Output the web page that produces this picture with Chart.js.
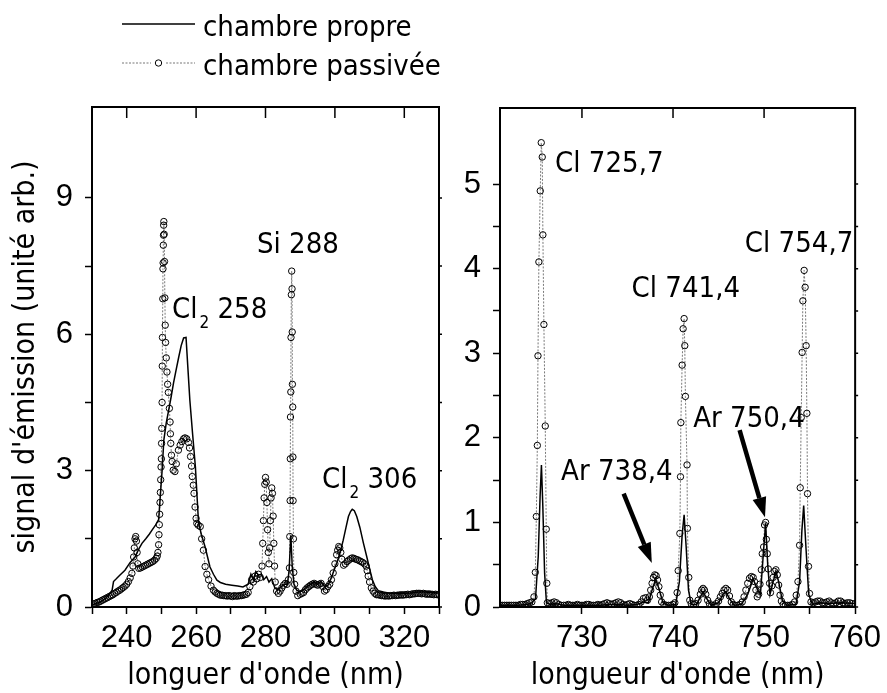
<!DOCTYPE html>
<html><head><meta charset="utf-8">
<script src="https://cdn.jsdelivr.net/npm/chart.js@4.4.1/dist/chart.umd.min.js"></script>
<style>
html,body{margin:0;padding:0;background:#fff;}
#wrap{position:relative;width:887px;height:693px;overflow:hidden;background:#fff;}
canvas{position:absolute;top:0;}
#c1{left:0;width:445px;height:693px;}
#c2{left:445px;width:442px;height:693px;}
</style></head><body>
<div id="wrap"><canvas id="c1" width="445" height="693"></canvas><canvas id="c2" width="442" height="693"></canvas></div>
<script>
// ---------- DATA ----------
const seriesNames = ["chambre propre", "chambre passivée"];
const leftXTicksLabeled = [240, 260, 280, 300, 320];
const rightXTicksLabeled = [730, 740, 750, 760];

// left panel, clean chamber [wavelength nm, signal]
const leftClean = [[230,0.05],[231,0.07],[232,0.1],[233,0.14],[234,0.2],[235,0.28],[235.8,0.37],[236.2,0.56],[237,0.62],[238,0.7],[239.5,0.81],[241,0.98],[242.4,1.1],[243.5,1.28],[244.4,1.4],[245.5,1.5],[246.5,1.6],[247.3,1.69],[248.3,1.8],[249.2,1.92],[249.6,2.35],[250.2,3.0],[250.7,3.67],[251.4,4.05],[252.1,4.33],[252.8,4.62],[253.5,4.93],[254.2,5.2],[255,5.5],[255.7,5.75],[256.4,5.92],[257.1,5.93],[257.6,5.3],[258.2,4.55],[259,3.8],[259.8,3.08],[260.7,1.85],[261.5,1.6],[262.6,1.32],[263.3,1.1],[264,0.88],[265,0.72],[266,0.59],[267,0.54],[268.5,0.5],[270.3,0.48],[272,0.46],[273.5,0.44],[275,0.5],[275.8,0.72],[276.5,0.6],[277.2,0.78],[278,0.7],[278.8,0.72],[279.5,0.6],[280.3,0.67],[281,0.55],[281.8,0.62],[282.7,0.42],[283.5,0.38],[284.5,0.45],[285.5,0.5],[286.3,0.5],[286.8,0.8],[287.3,1.58],[287.7,0.9],[288.2,0.5],[289,0.37],[290,0.33],[291,0.38],[292,0.45],[293,0.5],[294,0.55],[295,0.5],[296,0.56],[297,0.45],[298,0.48],[299,0.65],[300.5,0.96],[301.5,1.2],[302.4,1.47],[303.2,1.75],[303.9,1.99],[304.5,2.1],[305,2.15],[305.6,2.12],[306.3,1.99],[307.2,1.75],[308.2,1.41],[309.2,1.1],[310.1,0.81],[310.8,0.6],[311.6,0.45],[312.5,0.36],[314,0.33],[316,0.3],[318,0.3],[320,0.3],[322,0.31],[324,0.33],[326,0.33],[328,0.32],[330,0.3]];

// left panel, passivated chamber
const leftPassive = [[230,0.05],[230.5,0.07],[231,0.08],[231.5,0.1],[232,0.11],[232.5,0.13],[233,0.15],[233.5,0.17],[234,0.19],[234.5,0.21],[235,0.23],[235.5,0.25],[236,0.27],[236.5,0.3],[237,0.32],[237.5,0.35],[238,0.37],[238.5,0.4],[239,0.43],[239.5,0.46],[240,0.5],[240.5,0.56],[241,0.64],[241.5,0.74],[241.8,0.9],[242,1.1],[242.2,1.3],[242.4,1.5],[242.6,1.55],[242.8,1.45],[243,1.2],[243.2,0.95],[243.5,0.85],[244,0.86],[244.5,0.88],[245,0.9],[245.5,0.92],[246,0.94],[246.5,0.96],[247,0.98],[247.5,1.0],[248,1.03],[248.5,1.07],[248.8,1.12],[249,1.2],[249.2,1.37],[249.3,1.59],[249.4,1.81],[249.5,2.04],[249.6,2.3],[249.7,2.52],[249.8,2.8],[249.9,3.08],[250,3.26],[250.05,3.6],[250.1,3.93],[250.2,4.5],[250.25,5.3],[250.3,5.93],[250.4,6.78],[250.45,7.44],[250.5,7.57],[250.55,7.96],[250.6,8.18],[250.65,8.4],[250.7,8.48],[250.8,8.2],[250.9,7.6],[251,6.8],[251.1,6.2],[251.2,5.82],[251.4,5.48],[251.6,5.17],[251.8,4.9],[252,4.72],[252.3,4.37],[252.5,4.07],[252.6,3.81],[252.7,3.6],[252.9,3.34],[253.1,3.2],[253.4,3.01],[253.9,2.98],[254.3,3.15],[254.9,3.45],[255.4,3.56],[255.9,3.64],[256.4,3.7],[256.8,3.72],[257.3,3.7],[257.8,3.62],[258.1,3.5],[258.4,3.31],[258.7,3.1],[258.9,2.87],[259.2,2.68],[259.4,2.5],[259.7,2.2],[260,1.95],[260.2,1.84],[260.6,1.8],[261.2,1.77],[261.6,1.5],[262.1,1.25],[262.6,0.89],[263.1,0.72],[263.6,0.6],[264.3,0.46],[265,0.37],[265.5,0.33],[266,0.3],[266.5,0.28],[267,0.26],[267.5,0.26],[268,0.25],[268.5,0.25],[269,0.24],[269.5,0.25],[270,0.24],[270.5,0.23],[271,0.25],[271.5,0.24],[272,0.24],[272.5,0.25],[273,0.25],[273.5,0.26],[274,0.27],[274.5,0.28],[275,0.32],[275.5,0.45],[276,0.6],[276.5,0.55],[277,0.68],[277.5,0.62],[278,0.72],[278.5,0.65],[279,0.9],[279.2,1.4],[279.4,1.9],[279.6,2.4],[279.8,2.7],[280,2.85],[280.2,2.75],[280.4,2.3],[280.6,1.7],[280.8,1.2],[281,0.95],[281.2,1.3],[281.4,1.9],[281.6,2.4],[281.8,2.62],[282,2.5],[282.2,2.0],[282.4,1.4],[282.6,0.9],[282.8,0.55],[283.2,0.35],[283.7,0.3],[284.2,0.35],[284.7,0.42],[285.2,0.48],[285.7,0.52],[286.2,0.5],[286.6,0.6],[286.9,0.86],[287,1.55],[287.1,2.34],[287.15,3.26],[287.2,4.18],[287.3,4.73],[287.35,5.93],[287.45,6.87],[287.55,7.39],[287.65,7.0],[287.7,6.05],[287.75,4.9],[287.85,4.4],[287.9,3.3],[287.95,2.34],[288.05,1.5],[288.15,0.76],[288.4,0.5],[288.8,0.35],[289.3,0.25],[290,0.28],[290.5,0.3],[291,0.32],[291.5,0.38],[292,0.42],[292.5,0.45],[293,0.48],[293.5,0.5],[294,0.52],[294.5,0.5],[295,0.48],[295.5,0.5],[296,0.52],[296.5,0.45],[297,0.35],[297.5,0.38],[298,0.45],[298.5,0.5],[299,0.6],[299.5,0.75],[300,0.95],[300.5,1.15],[300.8,1.25],[301.1,1.33],[301.4,1.3],[301.7,1.2],[302,1.05],[302.5,0.92],[303,0.95],[303.5,1.0],[304,1.03],[304.5,1.06],[305,1.08],[305.5,1.07],[306,1.05],[306.5,1.04],[307,1.02],[307.5,1.0],[308,0.98],[308.5,0.95],[309,0.9],[309.3,0.8],[309.6,0.68],[310,0.55],[310.5,0.42],[311,0.35],[311.5,0.3],[312,0.27],[312.5,0.27],[313,0.26],[313.5,0.25],[314,0.25],[314.5,0.24],[315,0.25],[315.5,0.24],[316,0.25],[316.5,0.25],[317,0.26],[317.5,0.25],[318,0.26],[318.5,0.26],[319,0.27],[319.5,0.26],[320,0.27],[320.5,0.27],[321,0.28],[321.5,0.27],[322,0.28],[322.5,0.29],[323,0.29],[323.5,0.3],[324,0.3],[324.5,0.3],[325,0.29],[325.5,0.3],[326,0.29],[326.5,0.28],[327,0.29],[327.5,0.28],[328,0.28],[328.5,0.27],[329,0.28],[329.5,0.27],[330,0.27]];

// right panel, clean chamber
const rightClean = [[721,0.02],[722,0.02],[723,0.02],[724,0.03],[724.5,0.05],[724.9,0.1],[725.2,0.6],[725.4,1.3],[725.55,1.68],[725.7,1.2],[725.9,0.4],[726.1,0.05],[726.5,0.03],[727,0.04],[728,0.02],[730,0.02],[732,0.02],[733,0.03],[734,0.03],[735,0.02],[736,0.03],[736.8,0.06],[737.3,0.05],[737.7,0.2],[738.1,0.33],[738.5,0.2],[738.9,0.05],[739.5,0.02],[740.3,0.03],[740.7,0.3],[741,0.85],[741.22,1.09],[741.45,0.7],[741.7,0.2],[742,0.03],[742.6,0.03],[743,0.12],[743.3,0.18],[743.7,0.1],[744.2,0.02],[745,0.05],[745.5,0.15],[745.8,0.18],[746.2,0.1],[746.7,0.02],[747.5,0.03],[748.2,0.15],[748.8,0.33],[749.3,0.2],[749.6,0.15],[749.9,0.6],[750.17,0.99],[750.4,0.5],[750.65,0.15],[751,0.3],[751.3,0.42],[751.6,0.3],[752,0.08],[752.5,0.02],[753.5,0.03],[753.9,0.3],[754.15,0.9],[754.35,1.2],[754.6,0.7],[754.9,0.15],[755.3,0.03],[756,0.05],[757,0.04],[758.5,0.05],[760,0.04]];

// right panel, passivated chamber
const rightPassive = [[721,0.02],[721.25,0.02],[721.5,0.02],[721.75,0.02],[722,0.02],[722.25,0.02],[722.5,0.02],[722.75,0.02],[723,0.02],[723.25,0.03],[723.5,0.03],[723.75,0.03],[724,0.04],[724.25,0.05],[724.5,0.06],[724.73,0.12],[724.88,0.41],[724.99,1.07],[725.1,1.91],[725.17,2.97],[725.27,4.08],[725.42,4.92],[725.53,5.49],[725.64,5.32],[725.71,4.4],[725.82,3.34],[725.97,2.14],[726.08,0.92],[726.14,0.28],[726.2,0.05],[726.45,0.04],[726.7,0.05],[726.95,0.06],[727.2,0.05],[727.45,0.03],[727.7,0.02],[728,0.02],[728.25,0.02],[728.5,0.03],[728.75,0.02],[729,0.02],[729.25,0.02],[729.5,0.03],[729.75,0.02],[730,0.02],[730.25,0.02],[730.5,0.03],[730.75,0.03],[731,0.02],[731.25,0.02],[731.5,0.02],[731.75,0.03],[732,0.02],[732.25,0.03],[732.5,0.04],[732.75,0.05],[733,0.04],[733.25,0.03],[733.5,0.04],[733.75,0.05],[734,0.06],[734.25,0.05],[734.5,0.03],[734.75,0.02],[735,0.03],[735.25,0.04],[735.5,0.03],[735.75,0.02],[736,0.02],[736.25,0.03],[736.5,0.06],[736.75,0.1],[737,0.11],[737.2,0.08],[737.4,0.12],[737.55,0.2],[737.7,0.28],[737.85,0.35],[738,0.38],[738.15,0.37],[738.3,0.32],[738.45,0.24],[738.6,0.14],[738.75,0.06],[739,0.03],[739.25,0.02],[739.5,0.02],[739.75,0.02],[740,0.03],[740.2,0.05],[740.45,0.17],[740.57,0.43],[740.75,0.87],[740.82,1.54],[740.86,2.18],[741,2.86],[741.11,3.29],[741.22,3.41],[741.29,3.09],[741.36,2.49],[741.54,1.68],[741.58,0.93],[741.73,0.35],[741.84,0.08],[742,0.04],[742.25,0.03],[742.5,0.04],[742.75,0.08],[743,0.15],[743.15,0.2],[743.3,0.22],[743.45,0.2],[743.6,0.15],[743.8,0.08],[744,0.04],[744.25,0.02],[744.5,0.02],[744.75,0.04],[745,0.07],[745.2,0.12],[745.4,0.16],[745.6,0.2],[745.8,0.22],[746,0.2],[746.2,0.13],[746.4,0.06],[746.6,0.03],[746.85,0.02],[747.1,0.02],[747.35,0.03],[747.6,0.06],[747.8,0.12],[748,0.2],[748.2,0.28],[748.4,0.34],[748.6,0.36],[748.8,0.35],[748.95,0.3],[749.1,0.2],[749.25,0.12],[749.4,0.15],[749.55,0.27],[749.7,0.44],[749.8,0.63],[749.95,0.71],[750.05,0.97],[750.17,1.0],[750.25,0.8],[750.35,0.63],[750.46,0.45],[750.6,0.28],[750.7,0.17],[750.85,0.25],[751,0.35],[751.15,0.42],[751.3,0.44],[751.45,0.38],[751.6,0.26],[751.75,0.14],[751.9,0.07],[752.1,0.03],[752.35,0.02],[752.6,0.02],[752.85,0.02],[753.1,0.03],[753.35,0.06],[753.53,0.14],[753.72,0.3],[753.9,0.73],[753.97,1.41],[754.08,2.24],[754.18,3.01],[754.26,3.62],[754.4,3.98],[754.51,3.78],[754.62,3.09],[754.7,2.29],[754.77,1.34],[754.88,0.48],[754.99,0.16],[755.15,0.06],[755.4,0.05],[755.65,0.06],[755.9,0.07],[756.15,0.07],[756.4,0.05],[756.65,0.05],[756.9,0.06],[757.15,0.07],[757.4,0.05],[757.65,0.04],[757.9,0.05],[758.15,0.07],[758.4,0.07],[758.65,0.05],[758.9,0.04],[759.15,0.05],[759.4,0.05],[759.65,0.04],[760,0.04]];

// annotations: [label main, subscript, rest, x, y] (text anchor at baseline-left, data units)
const leftLabels = [["Cl","2"," 258",253.05,6.36],["Si 288","","",277.55,7.79],["Cl","2"," 306",296.28,2.62]];
const rightLabels = [["Cl 725,7","","",727.05,5.14],["Cl 741,4","","",735.45,3.66],["Cl 754,7","","",747.89,4.20],["Ar 738,4","","",727.71,1.50],["Ar 750,4","","",742.22,2.13]];
// arrows: [fromX, fromY, toX, toY] in data units
const rightArrows = [[734.58,1.34,737.67,0.52],[747.31,2.09,750.1,1.06]];

// ---------- FONTS ----------
function hasFont(name){
  const c=document.createElement('canvas').getContext('2d');
  const s='abcdefghijklmnopqrstuvwxyz0123456789 ABCDEFG';
  c.font='40px monospace'; const w0=c.measureText(s).width;
  c.font='40px "'+name+'", monospace'; const w1=c.measureText(s).width;
  return Math.abs(w0-w1)>0.5;
}
const COND = hasFont('DejaVu Sans Condensed');
const TFAM = COND ? '"DejaVu Sans Condensed", "DejaVu Sans", sans-serif' : '"DejaVu Sans", sans-serif';
const K = COND ? 1 : 0.9;
const TICKFAM = '"Liberation Sans", Arial, sans-serif';
const TITLE_SIZE = Math.round(30*K);
const ANN_SIZE = Math.round(29*K);
const SUB_SIZE = Math.round(17*K);

// ---------- PLUGINS ----------
function framePlugin(topLen, rightLen, labelTest){
  return {id:'frame', afterDraw(chart){
    const {ctx, chartArea:a, scales:{x,y}} = chart;
    ctx.save();
    ctx.strokeStyle='#000'; ctx.lineWidth=2;
    ctx.strokeRect(a.left, a.top, a.right-a.left, a.bottom-a.top);
    ctx.lineWidth=1.5; ctx.beginPath();
    x.ticks.forEach(t=>{ if(!labelTest(t.value)) return; const px=x.getPixelForValue(t.value); ctx.moveTo(px,a.top); ctx.lineTo(px,a.top+topLen); });
    y.ticks.forEach(t=>{ if(t.value>y.max-1e-9) return; const py=y.getPixelForValue(t.value); ctx.moveTo(a.right,py); ctx.lineTo(a.right+rightLen,py); });
    ctx.stroke(); ctx.restore();
  }};
}
function labelPlugin(labels, arrows){
  return {id:'labels', afterDraw(chart){
    const {ctx, scales:{x,y}} = chart;
    ctx.save(); ctx.fillStyle='#000'; ctx.textBaseline='alphabetic'; ctx.textAlign='left';
    labels.forEach(([a,sub,rest,lx,ly])=>{
      let px=x.getPixelForValue(lx), py=y.getPixelForValue(ly);
      ctx.font=ANN_SIZE+'px '+TFAM; ctx.fillText(a,px,py); px+=ctx.measureText(a).width;
      if(sub){ ctx.font=SUB_SIZE+'px '+TFAM; ctx.fillText(sub,px+2,py+10); px+=ctx.measureText(sub).width+2; }
      if(rest){ ctx.font=ANN_SIZE+'px '+TFAM; ctx.fillText(rest,px,py); }
    });
    (arrows||[]).forEach(([x0,y0,x1,y1])=>{
      const ax=x.getPixelForValue(x0), ay=y.getPixelForValue(y0), bx=x.getPixelForValue(x1), by=y.getPixelForValue(y1);
      const ang=Math.atan2(by-ay,bx-ax), hl=20, hw=7;
      const cx=bx-hl*Math.cos(ang), cy=by-hl*Math.sin(ang);
      ctx.strokeStyle='#000'; ctx.lineWidth=4.5; ctx.lineCap='butt';
      ctx.beginPath(); ctx.moveTo(ax,ay); ctx.lineTo(cx,cy); ctx.stroke();
      ctx.beginPath(); ctx.moveTo(bx,by);
      ctx.lineTo(cx+hw*Math.sin(ang), cy-hw*Math.cos(ang));
      ctx.lineTo(cx-hw*Math.sin(ang), cy+hw*Math.cos(ang));
      ctx.closePath(); ctx.fill();
    });
    ctx.restore();
  }};
}
const legendPlugin = {id:'legendDraw', afterDraw(chart){
  const ctx=chart.ctx; ctx.save();
  ctx.strokeStyle='#000'; ctx.lineWidth=1.5; ctx.beginPath(); ctx.moveTo(122,24); ctx.lineTo(195,24); ctx.stroke();
  ctx.strokeStyle='#777'; ctx.lineWidth=1; ctx.setLineDash([2,1.5]);
  ctx.beginPath(); ctx.moveTo(122,63); ctx.lineTo(151,63); ctx.moveTo(166,63); ctx.lineTo(195,63); ctx.stroke();
  ctx.setLineDash([]); ctx.strokeStyle='#000'; ctx.fillStyle='#fff';
  ctx.beginPath(); ctx.arc(158.5,63,3.2,0,Math.PI*2); ctx.fill(); ctx.stroke();
  ctx.fillStyle='#000'; ctx.font=ANN_SIZE+'px '+TFAM; ctx.textBaseline='alphabetic'; ctx.textAlign='left';
  ctx.fillText(seriesNames[0],203,36); ctx.fillText(seriesNames[1],203,75);
  ctx.restore();
}};

// ---------- CHARTS ----------
function makeDatasets(clean, passive){
  return [
    {label:seriesNames[0], data:clean.map(p=>({x:p[0],y:p[1]})), borderColor:'#000', borderWidth:1.5, pointRadius:0, tension:0, order:1},
    {label:seriesNames[1], data:passive.map(p=>({x:p[0],y:p[1]})), borderColor:'#7a7a7a', borderWidth:1, borderDash:[2,1.5], pointRadius:3.2, pointBorderColor:'#000', pointBackgroundColor:'rgba(255,255,255,0)', pointBorderWidth:1, tension:0, order:2}
  ];
}
function axisCommon(){
  return {
    grid:{drawOnChartArea:false, drawTicks:true, tickLength:7, tickColor:'#000', tickWidth:1.5},
    border:{display:true, color:'#000', width:2},
  };
}
const tickFont = {family:TICKFAM, size:31, lineHeight:1.2};
const titleFont = {family:TFAM, size:TITLE_SIZE, lineHeight:1.13};

Chart.defaults.color = '#000';

new Chart(document.getElementById('c1'), {
  type:'line',
  data:{datasets:makeDatasets(leftClean, leftPassive)},
  options:{
    responsive:false, animation:false, devicePixelRatio:1,
    layout:{padding:{left:0, top:107, right:6, bottom:0}},
    plugins:{legend:{display:false}, tooltip:{enabled:false}},
    scales:{
      x:Object.assign(axisCommon(), {type:'linear', position:'bottom', min:230, max:330,
        ticks:{stepSize:10, autoSkip:false, maxRotation:0, font:tickFont, color:'#000', padding:6,
          callback:v=> leftXTicksLabeled.includes(Math.round(v)) ? String(Math.round(v)) : ''},
        title:{display:true, text:"longuer d'onde (nm)", font:titleFont, color:'#000', padding:0},
        afterFit:s=>{s.height=86;}}),
      y:Object.assign(axisCommon(), {type:'linear', position:'left', min:0, max:11,
        ticks:{stepSize:1.5, autoSkip:false, font:tickFont, color:'#000', padding:12,
          callback:v=> v>10.99 ? null : (Math.abs(v/3-Math.round(v/3))<1e-6 ? String(Math.round(v)) : '')},
        title:{display:true, text:"signal d'émission (unité arb.)", font:{family:TFAM, size:TITLE_SIZE, lineHeight:1.2}, color:'#000', padding:{top:8,bottom:0}},
        afterFit:s=>{s.width=92;}})
    }
  },
  plugins:[framePlugin(11, 3, v=>leftXTicksLabeled.includes(Math.round(v))), labelPlugin(leftLabels, []), legendPlugin]
});

new Chart(document.getElementById('c2'), {
  type:'line',
  data:{datasets:makeDatasets(rightClean, rightPassive)},
  options:{
    responsive:false, animation:false, devicePixelRatio:1,
    layout:{padding:{left:0, top:108, right:29, bottom:0}},
    plugins:{legend:{display:false}, tooltip:{enabled:false}},
    scales:{
      x:Object.assign(axisCommon(), {type:'linear', position:'bottom', min:721, max:760,
        ticks:{stepSize:5, autoSkip:false, maxRotation:0, font:tickFont, color:'#000', padding:6,
          callback:v=> (Math.abs(v/5-Math.round(v/5))>1e-6) ? null : (rightXTicksLabeled.includes(Math.round(v)) ? String(Math.round(v)) : '')},
        title:{display:true, text:"longueur d'onde (nm)", font:titleFont, color:'#000', padding:0},
        afterFit:s=>{s.height=86;}}),
      y:Object.assign(axisCommon(), {type:'linear', position:'left', min:0, max:5.9,
        ticks:{stepSize:0.5, autoSkip:false, font:tickFont, color:'#000', padding:12,
          callback:v=> v>5.85 ? null : (Math.abs(v-Math.round(v))<1e-6 ? String(Math.round(v)) : '')},
        afterFit:s=>{s.width=55;}})
    }
  },
  plugins:[framePlugin(10, 3, v=>[730,740,750].includes(Math.round(v))), labelPlugin(rightLabels, rightArrows)]
});
</script>
</body></html>
